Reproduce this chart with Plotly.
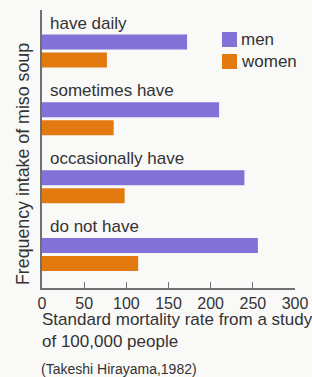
import plotly.graph_objects as go

categories = ["have daily", "sometimes have", "occasionally have", "do not have"]
men = [172, 210, 240, 256]
women = [77, 85, 98, 114]
series_names = ["men", "women"]
series_colors = ["#8272d8", "#e27a10"]
tick_vals = [0, 50, 100, 150, 200, 250, 300]
y_title = "Frequency intake of miso soup"
x_title = "Standard mortality rate from a study<br>of 100,000 people"
source = "(Takeshi Hirayama,1982)"

FONT = "Liberation Sans, Arial, sans-serif"
TXT = "#333333"

fig = go.Figure()
for name, vals, col in zip(series_names, [men, women], series_colors):
    fig.add_trace(go.Bar(y=categories, x=vals, name=name, orientation="h",
                         marker=dict(color=col, line=dict(width=0)), showlegend=False))

fig.update_layout(
    template="none",
    width=312, height=377, autosize=False,
    margin=dict(l=42, r=17, t=10, b=89, pad=0),
    paper_bgcolor="#f9f9f8", plot_bgcolor="#f9f9f8",
    barmode="group", bargap=0.469, bargroupgap=0.167,
    font=dict(family=FONT, size=16, color=TXT),
    xaxis=dict(range=[0, 300], tickvals=tick_vals, ticks="inside", ticklen=6,
               tickcolor="#707070", showline=True, linecolor="#707070", linewidth=1.5,
               showgrid=False, zeroline=False, automargin=False,
               tickfont=dict(size=16, color=TXT)),
    yaxis=dict(type="category", range=[3.494, -0.605], autorange=False,
               showticklabels=False, ticks="", showline=True, linecolor="#707070",
               linewidth=1.5, showgrid=False, zeroline=False, automargin=False),
)

for c in categories:
    fig.add_annotation(x=0, y=c, xref="x", yref="y", text=c, showarrow=False,
                       xanchor="left", yanchor="middle", xshift=6, yshift=28,
                       font=dict(size=17, color=TXT, family=FONT))

# legend drawn as decoration
for i, (name, col) in enumerate(zip(series_names, series_colors)):
    ytop = 32 + i * 22
    fig.add_shape(type="rect", xref="paper", yref="paper",
                  x0=(222 - 42) / 253, x1=(237 - 42) / 253,
                  y0=(288 - ytop) / 278, y1=(288 - ytop - 15) / 278,
                  fillcolor=col, line=dict(width=0))
    fig.add_annotation(x=(239 - 42) / 253, y=(288 - ytop - 7.5) / 278, xref="paper", yref="paper",
                       text=name, showarrow=False, xanchor="left", yanchor="middle",
                       font=dict(size=17, color=TXT, family=FONT))

fig.add_annotation(x=-19 / 253, y=(288 - 164) / 278, xref="paper", yref="paper",
                   text=y_title, textangle=-90, showarrow=False,
                   xanchor="center", yanchor="middle",
                   font=dict(size=17.8, color=TXT, family=FONT))

fig.add_annotation(x=-2 / 253, y=-(330 - 288) / 278, xref="paper", yref="paper",
                   text=x_title, showarrow=False, xanchor="left", yanchor="middle",
                   align="left", font=dict(size=17, color=TXT, family=FONT))

fig.add_annotation(x=-3 / 253, y=-(369 - 288) / 278, xref="paper", yref="paper",
                   text=source, showarrow=False, xanchor="left", yanchor="middle",
                   font=dict(size=14, color=TXT, family=FONT))

fig.write_html("out.html", config={"displayModeBar": False},
               post_script="document.body.style.margin='0';document.body.style.overflow='hidden';")
